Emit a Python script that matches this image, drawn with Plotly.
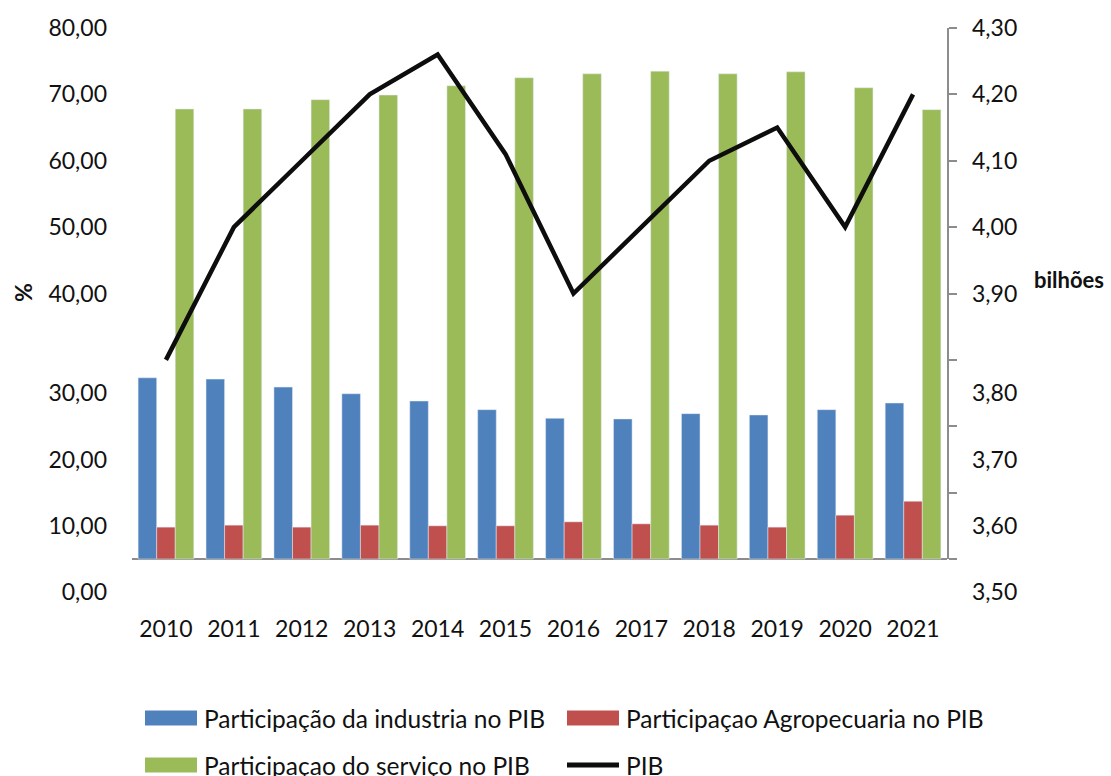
import plotly.graph_objects as go

# ---------------- data ----------------
years = ["2010", "2011", "2012", "2013", "2014", "2015",
         "2016", "2017", "2018", "2019", "2020", "2021"]
industria = [27.3, 27.1, 25.9, 24.9, 23.8, 22.5, 21.2, 21.1, 21.9, 21.7, 22.5, 23.5]
agro = [4.8, 5.1, 4.8, 5.1, 5.0, 5.0, 5.6, 5.3, 5.1, 4.8, 6.6, 8.7]
servico = [67.8, 67.8, 69.2, 69.9, 71.3, 72.5, 73.1, 73.5, 73.1, 73.4, 71.0, 67.7]
pib = [3.80, 4.00, 4.10, 4.20, 4.26, 4.11, 3.90, 4.00, 4.10, 4.15, 4.00, 4.20]

left_tick_vals = [80, 70, 60, 50, 40, 25, 15, 5, -5]
left_tick_text = ["80,00", "70,00", "60,00", "50,00", "40,00", "30,00", "20,00", "10,00", "0,00"]
right_tick_vals = [4.30, 4.20, 4.10, 4.00, 3.90, 3.75, 3.65, 3.55, 3.45]
right_tick_text = ["4,30", "4,20", "4,10", "4,00", "3,90", "3,80", "3,70", "3,60", "3,50"]

names = ["Participação da industria no PIB", "Participaçao Agropecuaria no PIB",
         "Participaçao do serviço no PIB", "PIB"]
colors = ["#4F81BD", "#C0504D", "#9BBB59", "#0D0D0D"]

# ---------------- geometry ----------------
W, H = 1111, 776
L, R, T, B = 132, 947, 28, 593   # plot area in px
BASE = 559                        # pixel of zero / 3.50
ppu_l = (BASE - T) / 80.0
ppu_r = (BASE - T) / 0.8
y_lo = -(B - BASE) / ppu_l
y2_lo = 3.5 - (B - BASE) / ppu_r
dom3 = (B - BASE) / (B - T)

FONT = "Lato"
FS = 23
LFS = 24.5

def px(x):
    return (x - L) / (R - L)

def py(y):
    return (B - y) / (B - T)

fig = go.Figure()
fig.add_bar(x=years, y=industria, name=names[0], marker_color=colors[0], showlegend=False)
fig.add_bar(x=years, y=agro, name=names[1], marker_color=colors[1], showlegend=False)
fig.add_bar(x=years, y=servico, name=names[2], marker_color=colors[2], showlegend=False)
fig.add_scatter(x=years, y=pib, name=names[3], mode="lines", yaxis="y2",
                line=dict(color=colors[3], width=4.5), showlegend=False)
# empty helper trace so the right-hand axis line/ticks (yaxis3) is drawn
fig.add_scatter(x=[], y=[], yaxis="y3", showlegend=False, hoverinfo="skip")

fig.update_layout(
    width=W, height=H,
    margin=dict(l=L, r=W - R, t=T, b=H - B, pad=0, autoexpand=False),
    paper_bgcolor="white", plot_bgcolor="rgba(0,0,0,0)",
    font=dict(family=FONT, size=FS, color="#111111"),
    barmode="group", bargap=0.18, bargroupgap=0,
    xaxis=dict(type="category", showline=False, ticks="", showgrid=False,
               zeroline=False, tickfont=dict(size=FS), ticklabelstandoff=20,
               range=[-0.5, 11.5], automargin=False),
    yaxis=dict(range=[y_lo, 80], showline=False, ticks="", showgrid=False,
               zeroline=True, zerolinecolor="#8C8C8C", zerolinewidth=2,
               tickmode="array", tickvals=left_tick_vals, ticktext=left_tick_text,
               ticklabelstandoff=24, automargin=False),
    yaxis2=dict(range=[y2_lo, 4.3], overlaying="y", side="right", anchor="x",
                showline=False, ticks="", showgrid=False, zeroline=False,
                tickmode="array", tickvals=right_tick_vals, ticktext=right_tick_text,
                ticklabelstandoff=24, automargin=False),
    yaxis3=dict(domain=[dom3, 1], range=[3.5, 4.3], anchor="x", side="right",
                showline=True, linecolor="#8C8C8C", linewidth=2,
                ticks="outside", ticklen=8, tickwidth=2, tickcolor="#8C8C8C",
                tick0=3.5, dtick=0.1, showticklabels=False, showgrid=False,
                zeroline=False, automargin=False),
)

annotations = [
    dict(text="<b>%</b>", x=px(23), y=py(293), xref="paper", yref="paper",
         xanchor="center", yanchor="middle",
         textangle=-90, showarrow=False, font=dict(size=FS)),
    dict(text="<b>bilhões</b>", x=px(1069), y=py(279), xref="paper", yref="paper",
         xanchor="center", yanchor="middle",
         showarrow=False, font=dict(size=FS - 1)),
]
shapes = []
legend_items = [
    (145, 718, 0, "rect"), (567, 718, 1, "rect"),
    (145, 765, 2, "rect"), (567, 765, 3, "line"),
]
for x0, yc, i, kind in legend_items:
    if kind == "rect":
        shapes.append(dict(type="rect", xref="paper", yref="paper",
                           x0=px(x0), x1=px(x0 + 52), y0=py(yc - 7.5), y1=py(yc + 7.5),
                           fillcolor=colors[i], line=dict(width=0)))
    else:
        shapes.append(dict(type="line", xref="paper", yref="paper",
                           x0=px(x0), x1=px(x0 + 52), y0=py(yc), y1=py(yc),
                           line=dict(color=colors[i], width=5)))
    annotations.append(dict(text=names[i], x=px(x0 + 57), y=py(yc), xref="paper", yref="paper",
                            xanchor="left", yanchor="middle", showarrow=False,
                            font=dict(size=LFS)))

fig.update_layout(annotations=annotations, shapes=shapes)
fig.write_html(
    "out.html",
    config={"displayModeBar": False},
    post_script="document.body.style.margin='0';document.body.style.overflow='hidden';",
)
